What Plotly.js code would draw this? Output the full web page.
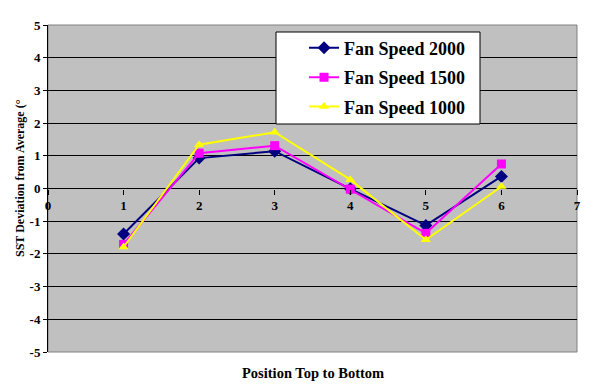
<!DOCTYPE html>
<html>
<head>
<meta charset="utf-8">
<script src="https://cdn.plot.ly/plotly-3.0.1.min.js"></script>
<style>html,body{margin:0;padding:0;background:#fff;}#chart{width:597px;height:391px;}</style>
</head>
<body>
<div id="chart"></div>
<script>
const positions = [1, 2, 3, 4, 5, 6];
const fan2000 = [-1.39, 0.93, 1.14, -0.01, -1.13, 0.37];
const fan1500 = [-1.71, 1.08, 1.31, -0.02, -1.37, 0.75];
const fan1000 = [-1.79, 1.34, 1.72, 0.27, -1.57, 0.06];
const seriesNames = ['Fan Speed 2000', 'Fan Speed 1500', 'Fan Speed 1000'];
const xTicks = [0, 1, 2, 3, 4, 5, 6, 7];
const yTicks = [-5, -4, -3, -2, -1, 0, 1, 2, 3, 4, 5];

const serif = 'Liberation Serif';
const traces = [
  {x: positions, y: fan2000, name: seriesNames[0], legendgroup: 'a', mode: 'lines+markers',
   line: {color: '#000080', width: 2}, marker: {symbol: 'diamond', size: 10, color: '#000080'}},
  {x: positions, y: fan1500, name: seriesNames[1], legendgroup: 'b', mode: 'lines+markers',
   line: {color: '#FF00FF', width: 2}, marker: {symbol: 'square', size: 9, color: '#FF00FF'}},
  {x: positions, y: fan1000, name: seriesNames[2], legendgroup: 'c', mode: 'lines+markers',
   line: {color: '#FFFF00', width: 2}, marker: {symbol: 'triangle-up', size: 9, color: '#FFFF00'}}
];

const layout = {
  width: 597, height: 391,
  margin: {l: 48, r: 20, t: 25, b: 39},
  paper_bgcolor: '#ffffff',
  plot_bgcolor: '#C0C0C0',
  showlegend: true,
  legend: {x: 0.484, y: 0.986, xanchor: 'left', yanchor: 'top', bgcolor: 'rgba(0,0,0,0)',
           borderwidth: 0, tracegroupgap: 3,
           font: {family: serif, size: 18, color: '#000', weight: 'bold'}},
  xaxis: {range: [0, 7], tickvals: xTicks, ticktext: xTicks.map(String), showgrid: false,
          zeroline: false, anchor: 'free', position: 0.5, showline: false,
          ticks: 'outside', ticklen: 5, tickcolor: '#000', tickwidth: 1,
          tickfont: {family: serif, size: 13, color: '#000', weight: 'bold'}, fixedrange: true},
  yaxis: {range: [-5, 5], tickvals: yTicks, ticktext: yTicks.map(String), showgrid: true,
          gridcolor: '#000000', gridwidth: 1, zeroline: false, showline: true, linecolor: '#000',
          linewidth: 1, ticks: 'outside', ticklen: 4, tickcolor: '#000',
          tickfont: {family: serif, size: 13, color: '#000', weight: 'bold'},
          fixedrange: true},
  shapes: [
    {type: 'rect', xref: 'paper', yref: 'paper', x0: 0, x1: 1, y0: 0, y1: 1,
     line: {color: '#808080', width: 1}, layer: 'below'},
    {type: 'rect', xref: 'paper', yref: 'paper', x0: (276 - 48) / 529, x1: (480 - 48) / 529,
     y0: (352 - 124) / 327, y1: (352 - 32) / 327,
     line: {color: '#000000', width: 1}, fillcolor: '#ffffff', layer: 'above'}
  ],
  annotations: [
    {text: 'Position Top to Bottom', xref: 'paper', yref: 'paper', x: 0.5, y: 0, yshift: -21,
     showarrow: false, xanchor: 'center', yanchor: 'middle',
     font: {family: serif, size: 14.5, color: '#000', weight: 'bold'}},
    {text: 'SST Deviation from Average (°', xref: 'paper', yref: 'paper',
     x: (20 - 48) / 529, y: (352 - 178) / 327, textangle: -90, showarrow: false,
     xanchor: 'center', yanchor: 'middle',
     font: {family: serif, size: 12, color: '#000', weight: 'bold'}}
  ]
};

Plotly.newPlot('chart', traces, layout, {displayModeBar: false, staticPlot: true});
</script>
</body>
</html>
